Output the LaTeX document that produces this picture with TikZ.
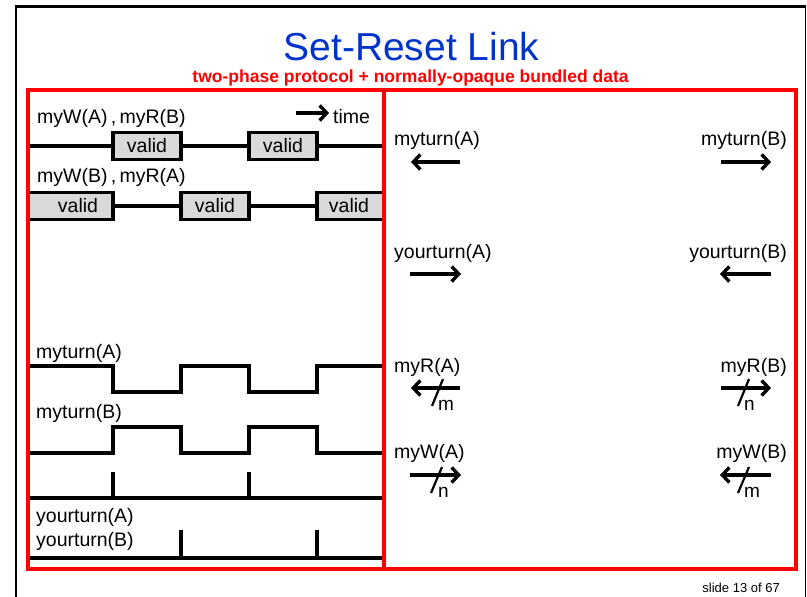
\documentclass[tikz,border=0pt]{standalone}
\usepackage{fontspec}
\setmainfont{Liberation Sans}
\usetikzlibrary{arrows.meta}
\definecolor{titleblue}{RGB}{0,51,204}
\definecolor{validgray}{RGB}{217,217,217}
\definecolor{framered}{RGB}{255,0,0}
\begin{document}
\begin{tikzpicture}[x=1pt,y=-1pt,
  sig/.style={line width=3.2pt, line cap=butt, line join=miter},
  lbl/.style={anchor=base west, inner sep=0pt, font=\fontsize{19.5}{23}\selectfont},
  lblr/.style={anchor=base east, inner sep=0pt, font=\fontsize{19.5}{23}\selectfont},
  small/.style={anchor=base west, inner sep=0pt, font=\fontsize{19}{22}\selectfont},
  vtext/.style={inner sep=0pt, font=\fontsize{19.5}{23}\selectfont},
  validbox/.style={draw, fill=validgray, line width=3.2pt},
  arr/.style={line width=3.4pt, -{Straight Barb[length=7pt,width=15pt,line width=3.4pt]}},
  slash/.style={line width=2.2pt},
  redframe/.style={draw=framered, line width=3.2pt}
]
\useasboundingbox (0,0) rectangle (807,597);
% outer slide frame
\draw[line width=2pt] (16,6) -- (16,600);
\draw[line width=3pt] (15,6) -- (806,6);
\draw[line width=1pt] (805,6) -- (805,600);

% title
\node[inner sep=0pt, anchor=base, text=titleblue, font=\fontsize{39}{44}\selectfont] (title) at (411.5,60) {Set-Reset Link};
\node[inner sep=0pt, anchor=base, text=framered, font=\fontsize{17.5}{20}\selectfont\bfseries] (subtitle) at (410.5,82) {two-phase protocol + normally-opaque bundled data};

% ---------- data timing ----------
\node[lbl] (lab1) at (37,123) {myW(A)\,,\,myR(B)};
\coordinate (ta) at (296,113);
\coordinate (tb) at (329,113);
\draw[arr] (ta) -- (tb);
\node[lbl] (time) at (333,123) {time};

\begin{scope}
\clip (28,90) rectangle (384,569);
\draw[sig] (28,146) -- (113,146);
\draw[sig] (181,146) -- (249,146);
\draw[sig] (317,146) -- (384,146);
\node[validbox, minimum width=68pt, minimum height=27pt, inner sep=0pt, font=\fontsize{19.5}{23}\selectfont] (va1) at (147,146) {valid};
\node[validbox, minimum width=68pt, minimum height=27pt, inner sep=0pt, font=\fontsize{19.5}{23}\selectfont] (va2) at (283,146) {valid};

\draw[sig] (113,206) -- (181,206);
\draw[sig] (249,206) -- (317,206);
\draw[validbox] (20,192.5) rectangle (113,219.5);
\node[vtext] (vb1) at (78,206) {valid};
\node[validbox, minimum width=68pt, minimum height=27pt, inner sep=0pt, font=\fontsize{19.5}{23}\selectfont] (vb2) at (215,206) {valid};
\draw[validbox] (317,192.5) rectangle (392,219.5);
\node[vtext] (vb3) at (349,206) {valid};
\end{scope}
\node[lbl] (lab2) at (37,182) {myW(B)\,,\,myR(A)};

% ---------- control timing ----------
\node[lbl] (lmA) at (36,358) {myturn(A)};
\draw[sig] (28,366) -- (113,366) -- (113,392) -- (181,392) -- (181,366) -- (249,366) -- (249,392) -- (317,392) -- (317,366) -- (384,366);
\node[lbl] (lmB) at (36,418) {myturn(B)};
\draw[sig] (28,453) -- (113,453) -- (113,427) -- (181,427) -- (181,453) -- (249,453) -- (249,427) -- (317,427) -- (317,453) -- (384,453);

\draw[sig] (28,498) -- (384,498);
\draw[sig] (113,472) -- (113,498);
\draw[sig] (249,472) -- (249,498);

\node[lbl] (lyA) at (36,522) {yourturn(A)};
\node[lbl] (lyB) at (36,546) {yourturn(B)};
\draw[sig] (28,558) -- (384,558);
\draw[sig] (181,530) -- (181,558);
\draw[sig] (317,530) -- (317,558);

% ---------- interface ----------
\node[lbl] (imA) at (394,145) {myturn(A)};
\coordinate (imA1) at (460,162); \coordinate (imA2) at (411,162);
\draw[arr] (imA1) -- (imA2);
\node[lblr] (imB) at (787,145) {myturn(B)};
\coordinate (imB1) at (721,162); \coordinate (imB2) at (771,162);
\draw[arr] (imB1) -- (imB2);

\node[lbl] (iyA) at (394,258) {yourturn(A)};
\coordinate (iyA1) at (410,274); \coordinate (iyA2) at (461,274);
\draw[arr] (iyA1) -- (iyA2);
\node[lblr] (iyB) at (787,258) {yourturn(B)};
\coordinate (iyB1) at (771,274); \coordinate (iyB2) at (720,274);
\draw[arr] (iyB1) -- (iyB2);

\node[lbl] (irA) at (394,372) {myR(A)};
\coordinate (irA1) at (460,388); \coordinate (irA2) at (411,388);
\draw[arr] (irA1) -- (irA2);
\draw[slash] (443,379) -- (432,406);
\node[small] (irAm) at (438,410) {m};

\node[lblr] (irB) at (787,372) {myR(B)};
\coordinate (irB1) at (721,388); \coordinate (irB2) at (771,388);
\draw[arr] (irB1) -- (irB2);
\draw[slash] (749,379) -- (738,406);
\node[small] (irBn) at (744,410) {n};

\node[lbl] (iwA) at (394,458) {myW(A)};
\coordinate (iwA1) at (410,475); \coordinate (iwA2) at (461,475);
\draw[arr] (iwA1) -- (iwA2);
\draw[slash] (442,467) -- (431,493);
\node[small] (iwAn) at (438,497) {n};

\node[lblr] (iwB) at (787,458) {myW(B)};
\coordinate (iwB1) at (771,475); \coordinate (iwB2) at (720,475);
\draw[arr] (iwB1) -- (iwB2);
\draw[slash] (749,467) -- (738,493);
\node[small] (iwBm) at (744,497) {m};

% red frame (on top)
\draw[redframe] (28,90) rectangle (796,569);
\draw[redframe] (384,90) -- (384,569);

% footer
\node[anchor=base east, inner sep=0pt, font=\fontsize{13}{15}\selectfont] (slide) at (780,592) {slide 13 of 67};
\end{tikzpicture}
\end{document}
